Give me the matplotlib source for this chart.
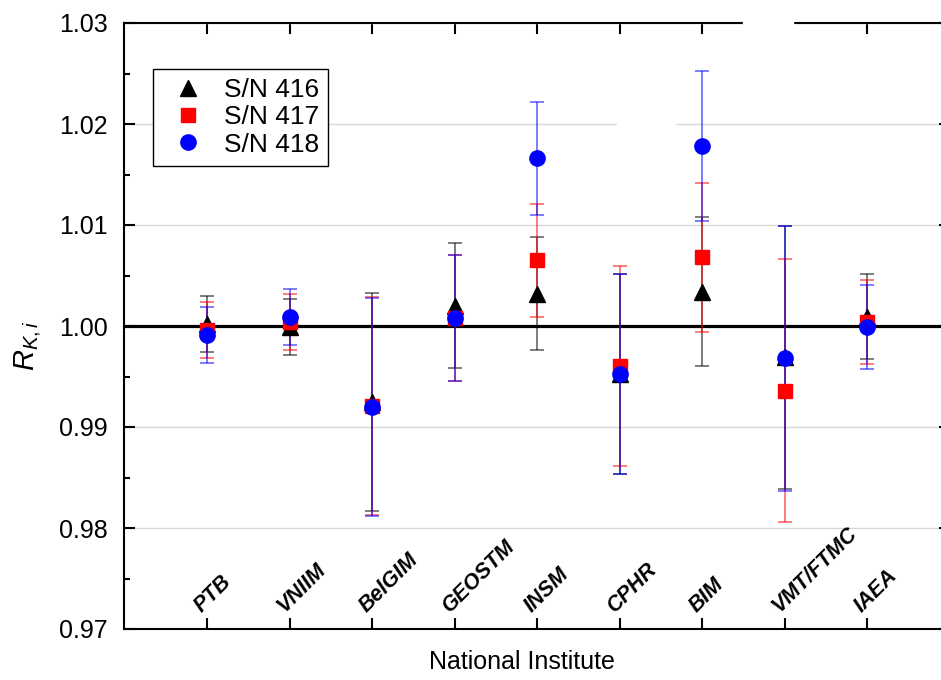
import matplotlib
matplotlib.use('Agg')
import matplotlib.pyplot as plt
from matplotlib.lines import Line2D
from matplotlib.patches import Rectangle
from matplotlib.colors import to_rgba
from matplotlib.ticker import MultipleLocator

# values
institutes = ['PTB', 'VNIIM', 'BelGIM', 'GEOSTM', 'INSM', 'CPHR', 'BIM', 'VMT/FTMC', 'IAEA']
sn416 = [1.0002, 0.9999, 0.9925, 1.0020, 1.0032, 0.9952, 1.0034, 0.9969, 1.0009]
u416 = [0.0028, 0.0028, 0.0108, 0.0062, 0.0056, 0.0099, 0.0074, 0.0130, 0.0042]
sn417 = [0.9996, 1.0004, 0.9921, 1.0008, 1.0065, 0.9960, 1.0068, 0.9936, 1.0004]
u417 = [0.0028, 0.0028, 0.0108, 0.0062, 0.0056, 0.0099, 0.0074, 0.0130, 0.0042]
sn418 = [0.9991, 1.0009, 0.9920, 1.0008, 1.0166, 0.9952, 1.0178, 0.9968, 0.9999]
u418 = [0.0028, 0.0028, 0.0108, 0.0062, 0.0056, 0.0099, 0.0074, 0.0131, 0.0042]
labels = ['S/N 416', 'S/N 417', 'S/N 418']
yticks = [0.97, 0.98, 0.99, 1.00, 1.01, 1.02, 1.03]

plt.rcParams['font.family'] = ['Liberation Sans', 'DejaVu Sans']
plt.rcParams['mathtext.fontset'] = 'custom'
plt.rcParams['mathtext.it'] = 'Liberation Sans:italic'
plt.rcParams['mathtext.rm'] = 'Liberation Sans'

W, H = 941, 680
fig = plt.figure(figsize=(W / 100, H / 100), dpi=100)
# right spine falls just outside the picture, as in the reference
ax = fig.add_axes([124.5 / W, 51 / H, 825 / W, 606 / H])

xpos = list(range(1, len(institutes) + 1))
series = [(sn416, u416, '^', 'black', 12),
          (sn417, u417, 's', 'red', 9.5),
          (sn418, u418, 'o', 'blue', 11)]

for vals, errs, mk, col, ms in series:
    ax.errorbar(xpos, vals, yerr=errs, fmt='none', ecolor=to_rgba(col, 0.6),
                elinewidth=1.2, capsize=5, capthick=1.2, zorder=3)
for vals, errs, mk, col, ms in series:
    ax.plot(xpos, vals, ls='', marker=mk, color=col, ms=ms, mec=col, zorder=4)

ax.axhline(1.0, color='black', lw=2.3, zorder=2)

ax.set_xlim(0, 10)
ax.set_ylim(0.97, 1.03)
ax.set_xticks(xpos)
ax.set_xticklabels([])
ax.set_yticks(yticks)
ax.set_yticklabels(['%.2f' % v for v in yticks])
ax.yaxis.set_minor_locator(MultipleLocator(0.005))
ax.yaxis.grid(True, which='major', color='#d8d8d8', lw=1.0)
ax.set_axisbelow(True)
ax.tick_params(which='both', direction='in', top=True, right=True, width=1.5)
ax.tick_params(which='major', length=8, labelsize=18, pad=12)
ax.tick_params(which='minor', length=4)
for sp in ax.spines.values():
    sp.set_linewidth(1.5)

# institute names sit inside the axes, slanted
for xi, name in zip(xpos, institutes):
    ax.text(xi - 0.06, 0.9716, name, rotation=45, rotation_mode='anchor',
            ha='left', va='baseline', fontsize=15.5, fontweight='bold',
            fontstyle='italic')

fig.text(522 / W, 1 - 662 / H, 'National Institute', ha='center', va='center',
         fontsize=18)
fig.text(28 / W, 1 - 346 / H, r'$R_{K,i}$', ha='center', va='center',
         rotation=90, fontsize=21)

handles = [Line2D([], [], ls='', marker=mk, color=col, ms=ms)
           for _, _, mk, col, ms in series]
leg = ax.legend(handles, labels, loc='upper left',
                bbox_to_anchor=(152.7 / W, 1 - 69 / H),
                bbox_transform=fig.transFigure, borderaxespad=0,
                fontsize=19, fancybox=False, framealpha=1,
                edgecolor='black', handletextpad=0.35, labelspacing=0.12,
                borderpad=0.35)
leg.get_frame().set_linewidth(1.0)

# erased patches seen in the reference image
fig.patches.append(Rectangle((743 / W, 1 - 33 / H), 50 / W, 15 / H,
                             transform=fig.transFigure, color='white', zorder=10))
fig.patches.append(Rectangle((617 / W, 1 - 127 / H), 58 / W, 6 / H,
                             transform=fig.transFigure, color='white', zorder=10))

fig.savefig('out.png', dpi=100)
